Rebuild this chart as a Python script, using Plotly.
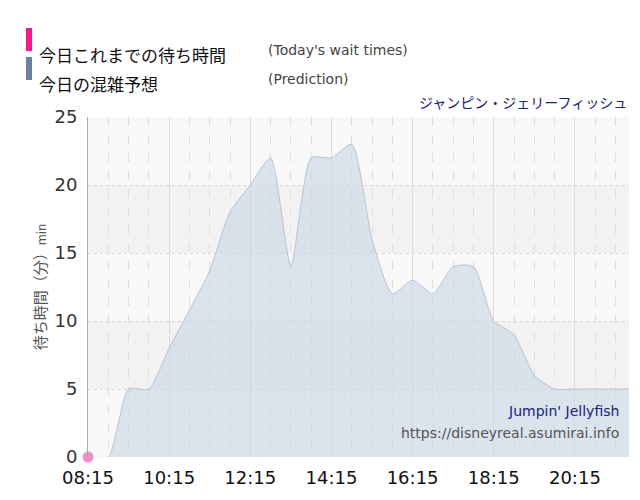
import plotly.graph_objects as go

# 予想（30分ごと）
pred_times = ['08:15', '08:45', '09:15', '09:45', '10:15', '10:45', '11:15', '11:45',
              '12:15', '12:45', '13:15', '13:45', '14:15', '14:45', '15:15', '15:45',
              '16:15', '16:45', '17:15', '17:45', '18:15', '18:45', '19:15', '19:45',
              '20:15', '20:45', '21:15', '21:35']
pred_wait = [0, 0, 5, 5, 8, 10.8, 13.7, 18, 20, 22, 14, 22, 22, 23, 16, 12,
             13, 12, 14, 14, 10, 9, 6, 5, 5, 5, 5, 5]

# 今日の実績
today_times = ['08:15']
today_wait = [0]

tick_labels = ['08:15', '10:15', '12:15', '14:15', '16:15', '18:15', '20:15']

day = '2024-01-01 '
px_ = [day + t for t in pred_times]
tx = [day + t for t in today_times]

fig = go.Figure()
fig.add_trace(go.Scatter(
    x=px_, y=pred_wait, mode='lines', line=dict(color='#b8c4d0', width=1, shape='spline', smoothing=0.6),
    fill='tozeroy', fillcolor='rgba(200,214,228,0.6)', hoverinfo='skip'))
fig.add_trace(go.Scatter(
    x=tx, y=today_wait, mode='markers', marker=dict(color='#f48fc8', size=11), cliponaxis=False))

# 背景の帯
for y0, y1, c in [(0, 5, '#f8f8f8'), (5, 10, '#f2f2f2'), (10, 15, '#f8f8f8'),
                  (15, 20, '#f2f2f2'), (20, 25, '#f8f8f8')]:
    fig.add_shape(type='rect', xref='paper', yref='y', x0=0, x1=1, y0=y0, y1=y1,
                  fillcolor=c, line_width=0, layer='below')

# 凡例
for i, (c, jp, en) in enumerate([('#ff1493', '今日これまでの待ち時間', "(Today's wait times)"),
                                 ('#6a7fa8', '今日の混雑予想', '(Prediction)')]):
    yy = 32 + i * 29
    fig.add_shape(type='rect', xref='paper', yref='paper', x0=-0.1146, x1=-0.1035,
                  y0=(449 - yy - 11) / 340, y1=(449 - yy + 12) / 340, fillcolor=c, line_width=0)
    fig.add_annotation(xref='paper', yref='paper', x=-0.094, y=(449 - yy) / 340, text=jp, showarrow=False,
                       xanchor='left', font=dict(size=17, color='#111'))
    fig.add_annotation(xref='paper', yref='paper', x=0.329, y=(449 - yy) / 340, text=en, showarrow=False,
                       xanchor='left', font=dict(size=14, color='#444', family='DejaVu Sans'))

fig.add_annotation(xref='paper', yref='paper', x=1, y=1.01, yanchor='bottom', xanchor='right',
                   text='ジャンピン・ジェリーフィッシュ', showarrow=False, font=dict(size=14, color='#1a237e'))
fig.add_annotation(xref='paper', yref='paper', x=0.985, y=0.105, xanchor='right',
                   text="Jumpin' Jellyfish", showarrow=False,
                   font=dict(size=14, color='#1a237e', family='DejaVu Sans'))
fig.add_annotation(xref='paper', yref='paper', x=0.985, y=0.04, xanchor='right',
                   text='https://disneyreal.asumirai.info', showarrow=False,
                   font=dict(size=14, color='#555', family='DejaVu Sans'))

fig.update_layout(
    width=640, height=500, showlegend=False,
    margin=dict(l=80, r=19, t=109, b=51),
    paper_bgcolor='white', plot_bgcolor='#f8f8f8',
    font=dict(family='Noto Sans CJK JP, DejaVu Sans'),
    xaxis=dict(range=[day + '08:15', day + '21:35'], tickvals=[day + t for t in tick_labels],
               ticktext=tick_labels, tickfont=dict(size=18, color='#111', family='DejaVu Sans'),
               showgrid=True, gridcolor='#dcdcdc', zeroline=False,
               showline=False, ticks='outside', ticklen=4, tickcolor='rgba(0,0,0,0)',
               minor=dict(dtick=1800000, tick0=day + '08:45', showgrid=True,
                          gridcolor='#dedede', griddash='dash')),
    yaxis=dict(range=[0, 25], tickvals=[0, 5, 10, 15, 20, 25],
               tickfont=dict(size=18, color='#333', family='DejaVu Sans'),
               gridcolor='#d8d8d8', griddash='dot', zeroline=False,
               showline=True, linecolor='#aaa', ticks='outside', ticklen=6, tickcolor='rgba(0,0,0,0)',
               title=dict(text='待ち時間（分）<span style="font-size:12px">min</span>',
                          font=dict(size=15, color='#555'), standoff=4)),
)
fig.write_html('out.html')
